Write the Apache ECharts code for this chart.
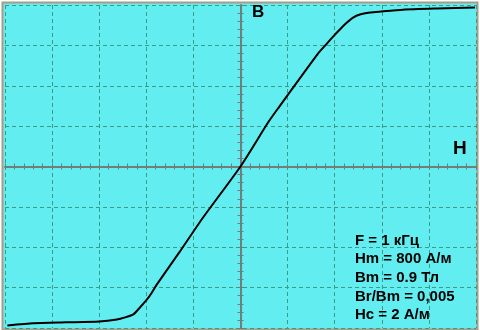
<!DOCTYPE html>
<html>
<head>
<meta charset="utf-8">
<script src="https://cdn.jsdelivr.net/npm/echarts@6/dist/echarts.min.js"></script>
<style>
  html, body { margin: 0; padding: 0; background: #ffffff; }
  #chart { width: 480px; height: 330px; }
</style>
</head>
<body>
<div id="chart"></div>
<script>
// H, A/m  (ось X)
const hValues = [-990, -880, -740, -600, -525, -490, -455, -427, -397, -376, -355, -257, -159, 0, 117, 159, 329, 363, 393, 422, 452, 478, 507, 550, 592, 690, 834, 996];
// B, Tл  (ось Y)
const bValues = [-0.984, -0.971, -0.965, -0.959, -0.947, -0.934, -0.916, -0.873, -0.823, -0.780, -0.730, -0.526, -0.316, 0, 0.272, 0.359, 0.699, 0.755, 0.804, 0.848, 0.891, 0.922, 0.941, 0.953, 0.959, 0.971, 0.978, 0.984];

const axisNames = ['H', 'B'];
const infoLines = ['F = 1 кГц', 'Hm = 800 А/м', 'Bm = 0.9 Тл', 'Br/Bm = 0,005', 'Hc = 2 А/м'];

const gridColor = '#3c9a86';
const axisColor = '#6f7f7b';

const chart = echarts.init(document.getElementById('chart'));

// основная сетка
function mainAxis(min, max, interval) {
  return {
    type: 'value', gridIndex: 0,
    min: min, max: max, interval: interval,
    axisLabel: { show: false },
    axisLine: { show: true, onZero: true, lineStyle: { color: axisColor, width: 2 } },
    axisTick: { show: false },
    splitLine: { show: true, lineStyle: { color: gridColor, type: [4, 3], width: 1 } }
  };
}

// риски на центральных осях (отдельные сетки, край которых лежит на нуле)
function tickAxis(gridIndex, min, max, interval, position, inside) {
  return {
    type: 'value', gridIndex: gridIndex, position: position,
    min: min, max: max, interval: interval,
    axisLabel: { show: false },
    axisLine: { show: false, onZero: false },
    axisTick: { show: true, inside: inside, length: 3, lineStyle: { color: axisColor, width: 1 } },
    minorTick: { show: true, splitNumber: 5, length: 3, lineStyle: { color: axisColor, width: 1 } },
    splitLine: { show: false }
  };
}

function hiddenAxis(gridIndex, min, max) {
  return { type: 'value', gridIndex: gridIndex, min: min, max: max, show: false, axisLine: { onZero: false } };
}

const pts = hValues.map((h, i) => [h, bValues[i]]);

const textEls = infoLines.map((t, i) => ({
  type: 'text',
  left: 355,
  top: 233 + i * 18.7,
  style: { text: t, fill: '#000', font: 'bold 15px "Liberation Sans", Arial, sans-serif' },
  z: 10
}));

const option = {
  animation: false,
  grid: [
    { left: 5, right: 4, top: 5, bottom: 2 },
    { left: 5, right: 4, top: 5, height: 161.5 },
    { left: 5, width: 235.5, top: 5, bottom: 2 }
  ],
  xAxis: [
    mainAxis(-1000, 1000, 200),
    tickAxis(1, -1000, 1000, 200, 'bottom', true),
    tickAxis(1, -1000, 1000, 200, 'bottom', false),
    hiddenAxis(2, -1000, 1000)
  ],
  yAxis: [
    mainAxis(-1, 1, 0.25),
    hiddenAxis(1, -1, 1),
    tickAxis(2, -1, 1, 0.25, 'right', true),
    tickAxis(2, -1, 1, 0.25, 'right', false)
  ],
  graphic: [
    {
      type: 'rect',
      shape: { x: 2.5, y: 2.5, width: 475, height: 327 },
      style: { fill: '#62eef0', stroke: '#a89c88', lineWidth: 2 },
      z: -100,
      silent: true
    },
    {
      type: 'text', left: 252, top: 4,
      style: { text: axisNames[1], fill: '#000', font: 'bold 17px "Liberation Sans", Arial, sans-serif' },
      z: 10
    },
    {
      type: 'text', left: 453, top: 139,
      style: { text: axisNames[0], fill: '#000', font: 'bold 19px "Liberation Sans", Arial, sans-serif' },
      z: 10
    }
  ].concat(textEls),
  series: [
    {
      type: 'line',
      xAxisIndex: 0,
      yAxisIndex: 0,
      data: pts,
      smooth: 0.2,
      showSymbol: false,
      lineStyle: { color: '#000', width: 2 },
      z: 5
    }
  ]
};

chart.setOption(option);
</script>
</body>
</html>
